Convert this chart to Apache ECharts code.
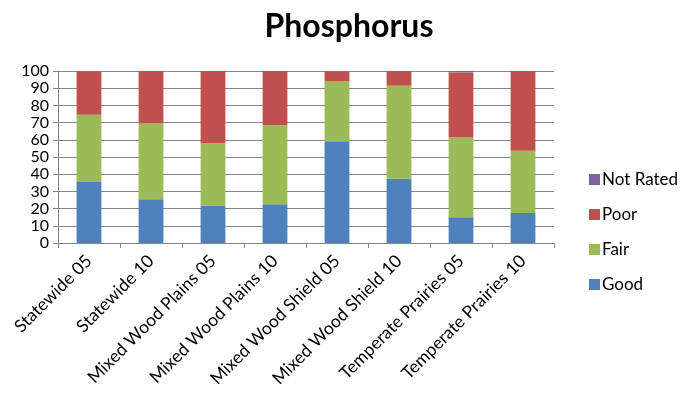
<!DOCTYPE html>
<html>
<head>
<meta charset="utf-8">
<script src="https://cdn.jsdelivr.net/npm/echarts@6/dist/echarts.min.js"></script>
<style>
html,body{margin:0;padding:0;background:#fff;}
#chart{width:682px;height:395px;}
</style>
</head>
<body>
<div id="chart"></div>
<script>
// Phosphorus condition ratings (percent of sites) by region and survey year
var categories = ['Statewide 05', 'Statewide 10', 'Mixed Wood Plains 05', 'Mixed Wood Plains 10',
  'Mixed Wood Shield 05', 'Mixed Wood Shield 10', 'Temperate Prairies 05', 'Temperate Prairies 10'];
var good = [35.5, 25.4, 21.6, 22.5, 59.2, 37.3, 15.0, 17.5];
var fair = [39.1, 44.1, 36.5, 46.0, 35.0, 54.2, 46.4, 36.1];
var poor = [25.1, 30.5, 41.9, 31.5, 5.5, 8.5, 37.8, 46.4];
var notRated = [0.3, 0, 0, 0, 0.3, 0, 0.8, 0];
var yTicks = [0, 10, 20, 30, 40, 50, 60, 70, 80, 90, 100];

var font = 'Lato, "Open Sans", sans-serif';
var chart = echarts.init(document.getElementById('chart'));

function series(name, data, color) {
  return { name: name, type: 'bar', stack: 'total', data: data, barWidth: '40%',
    itemStyle: { color: color }, emphasis: { disabled: true } };
}

chart.setOption({
  animation: false,
  title: { text: 'Phosphorus', left: 344, top: 6, textAlign: 'center',
    textStyle: { fontFamily: font, fontSize: 32, fontWeight: 'bold', color: '#000' } },
  legend: {
    data: ['Not Rated', 'Poor', 'Fair', 'Good'],
    orient: 'vertical', left: 584, top: 166, itemGap: 18,
    itemWidth: 11, itemHeight: 11, icon: 'rect',
    textStyle: { fontFamily: font, fontSize: 17, color: '#000', padding: [0, 0, 0, -3] }
  },
  grid: { left: 58, right: 128, top: 71, bottom: 152, containLabel: false },
  xAxis: {
    type: 'category', data: categories,
    axisLine: { lineStyle: { color: '#868686' } },
    axisTick: { show: true, length: 5, lineStyle: { color: '#868686' } },
    axisLabel: { rotate: 45, interval: 0, margin: 15, fontFamily: font, fontSize: 17.5, color: '#000' }
  },
  yAxis: {
    type: 'value', min: 0, max: 100, interval: 10,
    axisLine: { show: true, lineStyle: { color: '#868686' } },
    axisTick: { show: true, length: 5, lineStyle: { color: '#868686' } },
    splitLine: { lineStyle: { color: '#868686' } },
    axisLabel: { fontFamily: font, fontSize: 16, color: '#000', margin: 9,
      formatter: function (v) { return yTicks.indexOf(v) >= 0 ? String(v) : ''; } }
  },
  series: [
    series('Good', good, '#4f81bd'),
    series('Fair', fair, '#9bbb59'),
    series('Poor', poor, '#c0504d'),
    series('Not Rated', notRated, '#8064a2')
  ]
});
</script>
</body>
</html>
